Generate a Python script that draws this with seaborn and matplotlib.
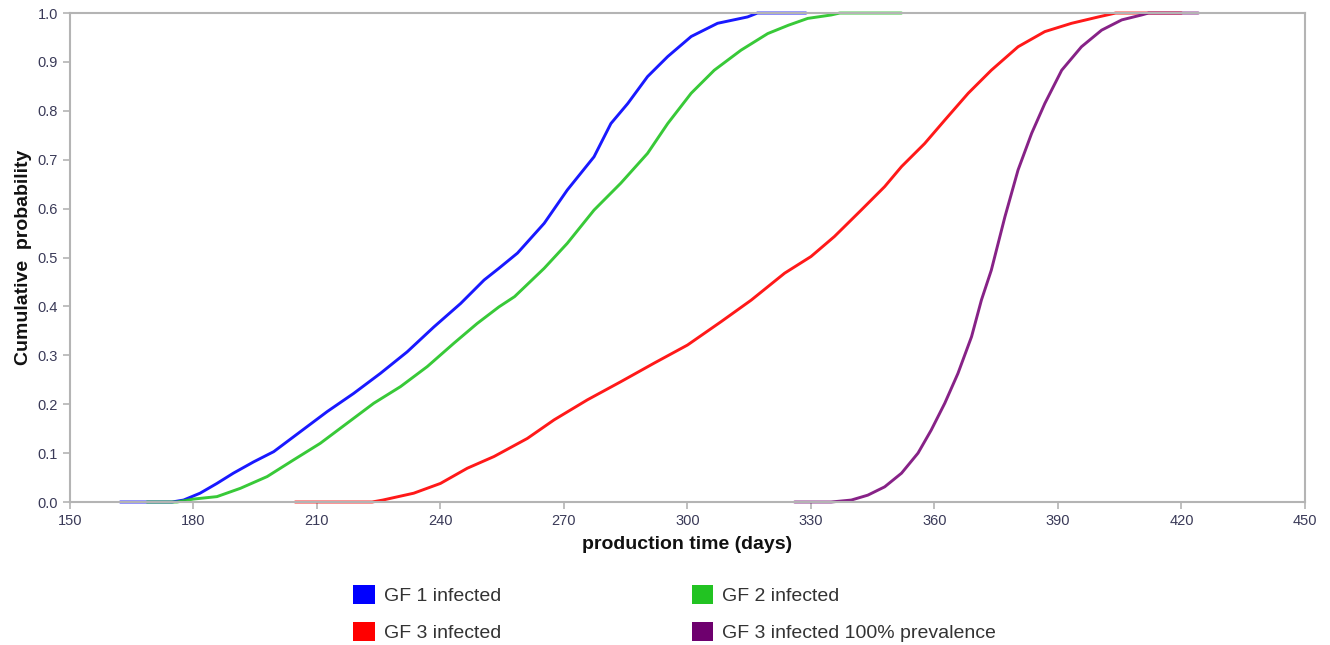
import matplotlib
matplotlib.use('Agg')
import matplotlib.pyplot as plt
from matplotlib.patches import Patch
import seaborn as sns

# points (production time in days, cumulative probability)
gf1_days = [162.2, 174.8, 177.6, 181.6, 185.7, 189.7, 194.6, 199.5, 206.0, 212.5, 218.9, 225.4,
            231.9, 238.4, 244.9, 250.6, 254.2, 258.7, 265.2, 270.8, 277.3, 281.4, 285.5, 290.3,
            295.2, 300.9, 307.3, 314.6, 317.0, 328.8]
gf1_prob = [0.0, 0.0, 0.004, 0.018, 0.038, 0.059, 0.082, 0.103, 0.144, 0.185, 0.222, 0.263,
            0.307, 0.358, 0.406, 0.454, 0.478, 0.509, 0.570, 0.638, 0.706, 0.774, 0.815, 0.870,
            0.911, 0.952, 0.979, 0.992, 1.0, 1.0]

gf2_days = [168.7, 176.0, 180.0, 185.7, 191.4, 197.9, 204.3, 210.8, 217.3, 223.8, 230.3, 236.8,
            243.3, 248.9, 254.2, 258.0, 265.2, 270.8, 277.3, 283.8, 290.3, 295.2, 300.9, 306.5,
            313.0, 319.5, 324.5, 329.2, 334.9, 337.0, 352.0]
gf2_prob = [0.0, 0.0, 0.006, 0.011, 0.028, 0.052, 0.086, 0.120, 0.161, 0.202, 0.236, 0.277,
            0.325, 0.365, 0.399, 0.420, 0.478, 0.529, 0.597, 0.652, 0.713, 0.774, 0.836, 0.883,
            0.924, 0.958, 0.975, 0.989, 0.996, 1.0, 1.0]

gf3_days = [204.7, 223.4, 226.0, 233.5, 240.0, 246.5, 253.0, 261.1, 267.6, 275.7, 283.8, 291.9,
            300.0, 308.2, 315.5, 323.6, 330.0, 335.7, 342.2, 347.9, 352.0, 357.6, 362.5, 368.2,
            373.8, 380.3, 386.8, 393.3, 399.8, 404.0, 420.0]
gf3_prob = [0.0, 0.0, 0.004, 0.018, 0.038, 0.069, 0.093, 0.130, 0.168, 0.209, 0.246, 0.284,
            0.321, 0.369, 0.413, 0.468, 0.502, 0.543, 0.597, 0.645, 0.686, 0.733, 0.781, 0.836,
            0.883, 0.931, 0.962, 0.979, 0.992, 1.0, 1.0]

gf3_full_days = [326.0, 334.9, 339.8, 343.8, 347.9, 352.0, 356.0, 359.2, 362.5, 365.7, 369.0,
                 371.4, 373.8, 377.1, 380.3, 383.6, 386.8, 390.9, 395.7, 400.6, 405.5, 410.3,
                 412.0, 424.1]
gf3_full_prob = [0.0, 0.0, 0.004, 0.014, 0.031, 0.059, 0.100, 0.147, 0.202, 0.263, 0.338,
                 0.413, 0.474, 0.583, 0.679, 0.754, 0.815, 0.883, 0.931, 0.965, 0.986, 0.996,
                 1.0, 1.0]

labels = ['GF 1 infected', 'GF 2 infected', 'GF 3 infected', 'GF 3 infected 100% prevalence']
colors = ['#0000ff', '#22c322', '#ff0000', '#7a0a7a']

sns.set_style('white')
plt.rcParams['font.family'] = ['Liberation Sans', 'DejaVu Sans']

fig = plt.figure(figsize=(13.3, 6.45), dpi=100)
ax = fig.add_axes([0.0526, 0.2217, 0.9286, 0.7581])

series = [(gf1_days, gf1_prob), (gf2_days, gf2_prob), (gf3_days, gf3_prob), (gf3_full_days, gf3_full_prob)]
for (d, p), c in zip(series, colors):
    sns.lineplot(x=d, y=p, color=c, linewidth=2.1, estimator=None, sort=False, ax=ax, clip_on=False, alpha=0.9)

ax.set_xlim(150, 450)
ax.set_ylim(0, 1)
ax.set_xticks(range(150, 451, 30))
ax.set_yticks([i / 10 for i in range(11)])
ax.set_yticklabels([f'{i / 10:.1f}' for i in range(11)])

for s in ax.spines.values():
    s.set_color('#b4b4b4')
    s.set_linewidth(1.5)
ax.tick_params(axis='both', which='major', direction='out', length=5, width=1.2,
               color='#b4b4b4', labelsize=10.5, labelcolor='#3a3a58', bottom=True, left=True)

ax.set_xlabel('production time (days)', fontsize=14, fontweight='bold', color='#111111', labelpad=6)
ax.set_ylabel('Cumulative  probability', fontsize=14, fontweight='bold', color='#111111', labelpad=4)

handles = [Patch(facecolor=colors[0], edgecolor='none'), Patch(facecolor=colors[2], edgecolor='none'),
           Patch(facecolor=colors[1], edgecolor='none'), Patch(facecolor='#6e006e', edgecolor='none')]
leg_labels = [labels[0], labels[2], labels[1], labels[3]]
fig.legend(handles, leg_labels, loc='upper left', bbox_to_anchor=(0.2654, 0.093), ncol=2,
           frameon=False, fontsize=14, handlelength=1.13, handleheight=1.13, handletextpad=0.45,
           columnspacing=9.8, labelspacing=0.85, borderaxespad=0, borderpad=0,
           labelcolor='#333333')

fig.savefig('out.png', dpi=100)
